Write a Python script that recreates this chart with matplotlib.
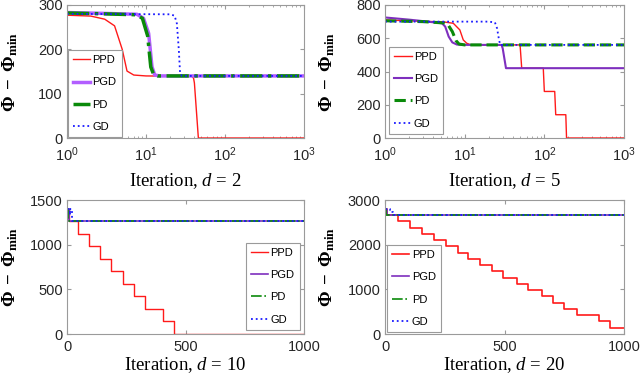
import matplotlib
matplotlib.use("Agg")
import matplotlib.pyplot as plt

plt.rcParams['font.family'] = ['Liberation Sans', 'DejaVu Sans']
plt.rcParams['mathtext.fontset'] = 'custom'
plt.rcParams['mathtext.rm'] = 'Liberation Serif'
plt.rcParams['mathtext.it'] = 'Liberation Serif:italic'
plt.rcParams['mathtext.bf'] = 'Liberation Serif:bold'

# d = 2 (log x axis)
d2_ppd_x = [1, 2, 3, 4, 5, 5.75, 7, 10, 38, 40, 41, 46, 1000]
d2_ppd_y = [277, 275, 268, 253, 200, 151, 142, 140, 139, 135, 124, 0, 0]
d2_pgd_x = [1, 3, 7.7, 9.3, 10.8, 11.9, 12.9, 15, 1000]
d2_pgd_y = [283, 281, 279, 270, 236, 161, 142, 140, 140]
d2_pd_x = [1, 3, 7.5, 9, 10.5, 11.5, 12.5, 14, 1000]
d2_pd_y = [282, 280, 278, 270, 230, 160, 143, 140, 140]
d2_gd_x = [1, 20, 23, 24.6, 26, 27, 28.5, 1000]
d2_gd_y = [280, 279, 276, 258, 200, 146, 140, 140]

# d = 5 (log x axis)
d5_ppd_x = [1, 2, 4, 5.5, 7.2, 8.7, 9.6, 10.6, 12, 49.6, 52, 97, 100, 135, 139, 186, 190, 1000]
d5_ppd_y = [710, 705, 700, 698, 690, 650, 590, 570, 560, 560, 420, 420, 280, 280, 140, 140, 0, 0]
d5_pgd_x = [1, 2, 3, 5.2, 5.7, 6.3, 7, 8, 10, 29, 30, 33, 1000]
d5_pgd_y = [725, 712, 703, 690, 670, 610, 575, 562, 560, 560, 540, 420, 420]
d5_pd_x = [1, 3, 5.5, 6.2, 7, 7.8, 8.5, 10, 1000]
d5_pd_y = [705, 700, 692, 680, 640, 585, 565, 560, 560]
d5_gd_x = [1, 20, 24, 25.5, 27, 28, 1000]
d5_gd_y = [700, 700, 695, 660, 590, 560, 560]

# d = 10 (linear x axis, step curves)
d10_ppd_x = [1, 10, 48, 94, 141, 186, 238, 284, 329, 404, 453, 1000]
d10_ppd_y = [1400, 1260, 1120, 980, 840, 700, 560, 420, 280, 140, 0, 0]
d10_pgd_x = [1, 8, 1000]
d10_pgd_y = [1400, 1260, 1260]
d10_pd_x = [1, 6, 1000]
d10_pd_y = [1400, 1260, 1260]
d10_gd_x = [1, 12, 14, 21, 1000]
d10_gd_y = [1400, 1330, 1400, 1260, 1260]

# d = 20 (linear x axis, step curves)
d20_ppd_x = [1, 8, 56, 105, 156, 206, 254, 304, 349, 397, 446, 495,
             551, 600, 656, 705, 751, 802, 895, 942, 1000]
d20_ppd_y = [2800, 2660, 2520, 2380, 2240, 2100, 1960, 1820, 1680, 1540, 1400,
             1260, 1120, 980, 840, 700, 560, 420, 280, 140, 140]
d20_pgd_x = [1, 8, 1000]
d20_pgd_y = [2800, 2660, 2660]
d20_pd_x = [1, 6, 1000]
d20_pd_y = [2800, 2660, 2660]
d20_gd_x = [1, 20, 35, 1000]
d20_gd_y = [2800, 2730, 2660, 2660]

RED = '#FF1A1A'
PURPLE_LIGHT = '#B25EFF'
PURPLE = '#7E2FBE'
GREEN = '#0A8A0A'
BLUE = '#1A1AFF'

fig = plt.figure(figsize=(6.4, 3.75), dpi=100)
W, H = 640, 375


def make_ax(x0, y0, x1, y1):
    return fig.add_axes([x0 / W, 1 - y1 / H, (x1 - x0) / W, (y1 - y0) / H])


def style(ax, d, xlab_y, xpad=4):
    for s in ax.spines.values():
        s.set_color('#9a9a9a')
        s.set_linewidth(0.8)
    ax.tick_params(which='both', direction='in', top=True, right=True,
                   colors='#9a9a9a', labelcolor='#262626', labelsize=10.5, pad=3)
    ax.tick_params(axis='x', which='both', pad=xpad)
    ax.tick_params(which='major', length=3)
    ax.tick_params(which='minor', length=1.6)
    ax.set_xlabel(r'Iteration, $d$ = %d' % d, family='Liberation Serif', fontsize=13.5)
    ax.xaxis.set_label_coords(0.5, xlab_y)
    ax.set_ylabel(r'$\mathbf{\Phi\ -\ \Phi_{min}}$', fontsize=13.5)
    ax.yaxis.set_label_coords(-0.2, 0.5)


def legend(ax, loc, pad):
    leg = ax.legend(loc=loc, fontsize=8, frameon=True, fancybox=False,
                    edgecolor='#9a9a9a', framealpha=1, borderaxespad=pad,
                    labelspacing=1.1, handlelength=1.55, handletextpad=0.2,
                    borderpad=0.45)
    leg.get_frame().set_linewidth(0.8)


# top left
ax = make_ax(67, 5, 304, 138)
ax.plot(d2_ppd_x, d2_ppd_y, color=RED, lw=1.0, label='PPD')
ax.plot(d2_pgd_x, d2_pgd_y, color=PURPLE_LIGHT, lw=2.5, label='PGD')
ax.plot(d2_pd_x, d2_pd_y, color=GREEN, lw=2.5, ls='-.', label='PD')
ax.plot(d2_gd_x, d2_gd_y, color=BLUE, lw=1.3, ls=':', label='GD')
ax.set_xscale('log')
ax.set_xlim(1, 1000)
ax.set_ylim(0, 300)
ax.set_yticks([0, 100, 200, 300])
style(ax, 2, -0.25, xpad=5.5)
legend(ax, 'lower left', 0.1)

# top right
ax = make_ax(385, 5, 624, 138)
ax.plot(d5_ppd_x, d5_ppd_y, color=RED, lw=1.0, label='PPD')
ax.plot(d5_pgd_x, d5_pgd_y, color=PURPLE, lw=1.5, label='PGD')
ax.plot(d5_pd_x, d5_pd_y, color=GREEN, lw=2.2, ls='--', label='PD')
ax.plot(d5_gd_x, d5_gd_y, color=BLUE, lw=1.3, ls=':', label='GD')
ax.set_xscale('log')
ax.set_xlim(1, 1000)
ax.set_ylim(0, 800)
ax.set_yticks([0, 200, 400, 600, 800])
style(ax, 5, -0.25, xpad=5.5)
legend(ax, 'lower left', 0.4)

# bottom left
ax = make_ax(67, 200, 304, 334)
ax.plot(d10_ppd_x, d10_ppd_y, color=RED, lw=1.0, drawstyle='steps-post', label='PPD')
ax.plot(d10_pgd_x, d10_pgd_y, color=PURPLE, lw=1.2, drawstyle='steps-post', label='PGD')
ax.plot(d10_pd_x, d10_pd_y, color=GREEN, lw=1.2, ls='-.', drawstyle='steps-post', label='PD')
ax.plot(d10_gd_x, d10_gd_y, color=BLUE, lw=1.3, ls=':', drawstyle='steps-post', label='GD')
ax.set_xlim(0, 1000)
ax.set_ylim(0, 1500)
ax.set_xticks([0, 500, 1000])
ax.set_yticks([0, 500, 1000, 1500])
style(ax, 10, -0.16)
legend(ax, 'lower right', 0.4)

# bottom right
ax = make_ax(385, 200, 624, 334)
ax.plot(d20_ppd_x, d20_ppd_y, color=RED, lw=1.2, drawstyle='steps-post', label='PPD')
ax.plot(d20_pgd_x, d20_pgd_y, color=PURPLE, lw=1.2, drawstyle='steps-post', label='PGD')
ax.plot(d20_pd_x, d20_pd_y, color=GREEN, lw=1.2, ls='-.', drawstyle='steps-post', label='PD')
ax.plot(d20_gd_x, d20_gd_y, color=BLUE, lw=1.3, ls=':', drawstyle='steps-post', label='GD')
ax.set_xlim(0, 1000)
ax.set_ylim(0, 3000)
ax.set_xticks([0, 500, 1000])
ax.set_yticks([0, 1000, 2000, 3000])
style(ax, 20, -0.16)
legend(ax, 'lower left', 0.2)

fig.savefig('out.png', dpi=100)
